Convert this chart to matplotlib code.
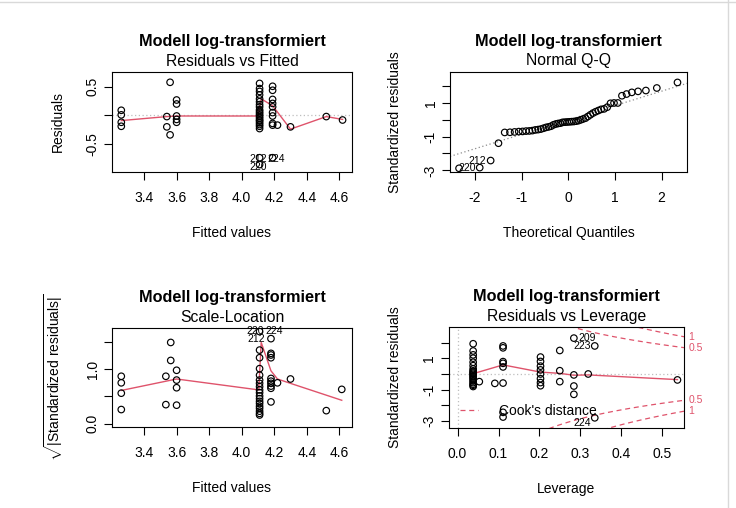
import numpy as np
import matplotlib
matplotlib.use("Agg")
import matplotlib.pyplot as plt
import matplotlib.transforms as mtransforms
from matplotlib.lines import Line2D
from statistics import NormalDist

plt.rcParams["font.family"] = ["Liberation Sans", "DejaVu Sans"]
plt.rcParams["axes.unicode_minus"] = False
plt.rcParams["mathtext.fontset"] = "custom"
plt.rcParams["mathtext.rm"] = "Liberation Sans"
plt.rcParams["mathtext.it"] = "Liberation Sans:italic"

TITLE = "Modell log-transformiert"
RED = "#DF536B"
W, H = 736, 508

# --- Residuals vs Fitted ---
rvf_groups = [3.26, 3.54, 3.56, 3.60, 4.11, 4.19, 4.22, 4.30, 4.52, 4.62]
rvf_resid = [
    [0.09, 0.01, -0.12, -0.19],
    [-0.02, -0.20],
    [0.58, -0.34],
    [0.27, 0.20, -0.01, -0.07, -0.12],
    [0.56, 0.47, 0.42, 0.36, 0.29, 0.24, 0.19, 0.15, 0.10, 0.07, 0.04, 0.01,
     -0.02, -0.05, -0.08, -0.10, -0.13, -0.16, -0.19, -0.23, -0.74, -0.86],
    [0.51, 0.44, 0.28, 0.21, 0.15, 0.05, -0.01, -0.14, -0.17, -0.74],
    [-0.17], [-0.20], [-0.02], [-0.08],
]
rvf_smooth_x = [3.26, 3.54, 3.60, 4.10, 4.12, 4.19, 4.30, 4.52, 4.62]
rvf_smooth_y = [-0.09, -0.02, -0.01, -0.01, 0.29, 0.17, -0.24, -0.02, -0.07]
rvf_ids = ["212", "220", "224"]
rvf_id_x = [4.10, 4.10, 4.21]
rvf_id_y = [-0.76, -0.90, -0.76]

# --- Normal Q-Q: sorted standardized residuals ---
qq_sample = [-2.88, -2.84, -2.42, -1.39, -0.75, -0.74, -0.72, -0.70, -0.69, -0.67,
             -0.66, -0.64, -0.60, -0.58, -0.55, -0.50, -0.45, -0.42, -0.38, -0.30,
             -0.25, -0.22, -0.20, -0.15, -0.14, -0.13, -0.12, -0.11, -0.10, -0.08,
             -0.05, 0.00, 0.05, 0.10, 0.20, 0.30, 0.40, 0.48, 0.55, 0.62,
             0.65, 0.75, 0.98, 1.00, 1.00, 1.43, 1.53, 1.63, 1.69, 1.74,
             1.89, 2.22]

# --- Scale-Location ---
sl_groups = [3.26, 3.534, 3.564, 3.60, 4.11, 4.18, 4.22, 4.30, 4.52, 4.615]
sl_vals = [
    [0.87, 0.75, 0.56, 0.26],
    [0.87, 0.35],
    [1.49, 1.16],
    [0.98, 0.80, 0.66, 0.34],
    [1.69, 1.35, 1.21, 1.01, 0.89, 0.80, 0.74, 0.68, 0.62, 0.57, 0.51, 0.46,
     0.41, 0.37, 0.32, 0.28, 0.23, 0.19, 0.16],
    [1.56, 1.29, 1.26, 1.21, 0.83, 0.78, 0.74, 0.69, 0.65, 0.40],
    [0.75], [0.82], [0.24], [0.63],
]
sl_smooth_x = [3.26, 3.60, 4.105, 4.12, 4.18, 4.22, 4.30, 4.615]
sl_smooth_y = [0.61, 0.82, 0.62, 1.49, 0.97, 0.82, 0.74, 0.43]
sl_ids = ["220", "224", "212"]
sl_id_x = [4.085, 4.2, 4.09]
sl_id_y = [1.70, 1.70, 1.55]

# --- Residuals vs Leverage ---
lev_groups = [0.038, 0.053, 0.091, 0.111, 0.2025, 0.2496, 0.284, 0.319, 0.335, 0.537]
lev_vals = [
    [1.93, 1.47, 1.22, 1.01, 0.75, 0.53, 0.32, 0.20, 0.12, 0.05, -0.02, -0.10,
     -0.18, -0.26, -0.35, -0.45, -0.55, -0.65, -0.72, -0.80],
    [-0.49],
    [-0.60],
    [1.79, 1.67, 0.79, 0.68, 0.45, -0.58, -2.45, -2.75],
    [1.08, 0.80, 0.50, 0.26, 0.00, -0.30, -0.55, -0.75],
    [1.50, 0.21, -0.49],
    [2.29, -0.06, -0.77, -1.30],
    [0.00],
    [1.79, -2.80],
    [-0.38],
]
lev_smooth_x = [0.038, 0.111, 0.2025, 0.2496, 0.284, 0.319, 0.537]
lev_smooth_y = [0.02, 0.58, 0.12, 0.04, -0.08, -0.06, -0.36]
cook_levels = [0.5, 1]
n_params = 7


def flat(groups, vals):
    x = np.concatenate([[g] * len(v) for g, v in zip(groups, vals)])
    y = np.concatenate(vals)
    return x, y


fig = plt.figure(figsize=(W / 100, H / 100), dpi=100)
fig.patch.set_facecolor("white")
# faint frame of the plot pane
fig.add_artist(Line2D([0, 1], [1 - 2 / H, 1 - 2 / H], color="#D9D9D9", lw=1))
fig.add_artist(Line2D([728 / W, 728 / W], [0, 1], color="#D9D9D9", lw=1))


def r_axes(l, t, r, b, subtitle, xlabel, ylabel, ylab_dx=54):
    ax = fig.add_axes([l / W, 1 - b / H, (r - l) / W, (b - t) / H])
    for s in ax.spines.values():
        s.set_linewidth(0.8)
    ax.tick_params(direction="out", length=5.5, width=0.8, labelsize=10)
    ax.tick_params(axis="x", pad=8.5)
    ax.tick_params(axis="y", pad=3.5)
    cx = (l + r) / 2
    fig.text(cx / W, 1 - (t - 26) / H, TITLE, ha="center", va="baseline",
             fontsize=11.7, fontweight="bold")
    fig.text(cx / W, 1 - (t - 6.5) / H, subtitle, ha="center", va="baseline",
             fontsize=11.3)
    fig.text(cx / W, 1 - (b + 65) / H, xlabel, ha="center", va="baseline", fontsize=10)
    fig.text((l - ylab_dx) / W, 1 - ((t + b) / 2) / H, ylabel, ha="center",
             va="center", rotation=90, fontsize=10)
    return ax


def y_ticks(ax, ticks, labels):
    ax.set_yticks(ticks)
    ax.set_yticklabels(labels)
    for lab in ax.get_yticklabels():
        lab.set_rotation(90)
        lab.set_va("center")


pt = dict(facecolors="none", edgecolors="black", s=22, linewidths=0.85, zorder=3)

# panel 1
ax1 = r_axes(112, 72, 352, 172, "Residuals vs Fitted", "Fitted values", "Residuals")
x, y = flat(rvf_groups, rvf_resid)
ax1.scatter(x, y, **pt)
ax1.axhline(0, color="#BEBEBE", ls=(0, (1, 2)), lw=0.9)
ax1.plot(rvf_smooth_x, rvf_smooth_y, color=RED, lw=1)
for t, tx, ty in zip(rvf_ids, rvf_id_x, rvf_id_y):
    ax1.text(tx, ty, t, fontsize=7.5, ha="center", va="center")
ax1.set_xlim(3.203, 4.678)
ax1.set_ylim(-0.99, 0.76)
ax1.set_xticks([3.4, 3.6, 3.8, 4.0, 4.2, 4.4, 4.6])
y_ticks(ax1, [-0.5, 0, 0.5], ["-0.5", "", "0.5"])

# panel 2
ax2 = r_axes(450, 72, 687, 172, "Normal Q-Q", "Theoretical Quantiles",
             "Standardized residuals", ylab_dx=55)
n = len(qq_sample)
nd = NormalDist()
theo = np.array([nd.inv_cdf((i - 0.5) / n) for i in range(1, n + 1)])
samp = np.sort(qq_sample)
ax2.scatter(theo, samp, **pt)
q25, q75 = np.quantile(samp, [0.25, 0.75])
slope = (q75 - q25) / (nd.inv_cdf(0.75) - nd.inv_cdf(0.25))
ax2.axline((nd.inv_cdf(0.25), q25), slope=slope, color="#8C8C8C",
           ls=(0, (1, 2)), lw=0.9)
ax2.annotate("220", (theo[1], samp[1]), xytext=(-3, 0), textcoords="offset points",
             fontsize=7.5, ha="right", va="center")
ax2.annotate("212", (theo[2], samp[2]), xytext=(-3, 0), textcoords="offset points",
             fontsize=7.5, ha="right", va="center")
ax2.set_xlim(-2.535, 2.545)
ax2.set_ylim(-3.1, 2.84)
ax2.set_xticks([-2, -1, 0, 1, 2])
y_ticks(ax2, [-3, -2, -1, 0, 1, 2], ["-3", "", "-1", "", "1", ""])

# panel 3
ax3 = r_axes(112, 328, 352, 427, "Scale-Location", "Fitted values",
             r"$\sqrt{|\mathrm{Standardized\ residuals}|}$", ylab_dx=58)
x, y = flat(sl_groups, sl_vals)
ax3.scatter(x, y, **pt)
ax3.plot(sl_smooth_x, sl_smooth_y, color=RED, lw=1)
for t, tx, ty in zip(sl_ids, sl_id_x, sl_id_y):
    ax3.text(tx, ty, t, fontsize=7.5, ha="center", va="center", clip_on=False)
ax3.set_xlim(3.203, 4.678)
ax3.set_ylim(-0.06, 1.755)
ax3.set_xticks([3.4, 3.6, 3.8, 4.0, 4.2, 4.4, 4.6])
y_ticks(ax3, [0, 0.5, 1.0, 1.5], ["0.0", "", "1.0", ""])

# panel 4
ax4 = r_axes(449, 327, 684, 428, "Residuals vs Leverage", "Leverage",
             "Standardized residuals", ylab_dx=54)
x, y = flat(lev_groups, lev_vals)
ax4.scatter(x, y, **pt)
ax4.axhline(0, color="#BEBEBE", ls=(0, (1, 2)), lw=0.9)
ax4.axvline(0, color="#BEBEBE", ls=(0, (1, 2)), lw=0.9)
ax4.plot(lev_smooth_x, lev_smooth_y, color=RED, lw=1)
xmax = 0.553
hh = np.linspace(0.005, xmax, 101)
trans = mtransforms.blended_transform_factory(ax4.transAxes, ax4.transData)
for c in cook_levels:
    cl = np.sqrt(c * n_params * (1 - hh) / hh)
    ax4.plot(hh, cl, color=RED, ls=(0, (4, 3)), lw=0.9)
    ax4.plot(hh, -cl, color=RED, ls=(0, (4, 3)), lw=0.9)
    yr = np.sqrt(c * n_params * (1 - xmax) / xmax)
    for s in (1, -1):
        ax4.text(1.02, s * yr, f"{c:g}", transform=trans, fontsize=7.5,
                 color=RED, ha="left", va="center", clip_on=False)
ax4.annotate("209", (0.284, 2.29), xytext=(3, 0), textcoords="offset points",
             fontsize=7.5, ha="left", va="center")
ax4.annotate("223", (0.335, 1.79), xytext=(-3, 0), textcoords="offset points",
             fontsize=7.5, ha="right", va="center")
ax4.annotate("224", (0.335, -2.80), xytext=(-3, -4), textcoords="offset points",
             fontsize=7.5, ha="right", va="center")
ax4.legend(handles=[Line2D([], [], color=RED, ls=(0, (4, 3)), lw=0.9)],
           labels=["Cook's distance"], loc="center left",
           bbox_to_anchor=(0.047, 0.168), frameon=False, fontsize=10,
           borderpad=0, borderaxespad=0, handlelength=1.3, handletextpad=1.5)
ax4.set_xlim(-0.021, xmax)
ax4.set_ylim(-3.45, 3.0)
ax4.set_xticks([0.0, 0.1, 0.2, 0.3, 0.4, 0.5])
ax4.set_xticklabels(["0.0", "0.1", "0.2", "0.3", "0.4", "0.5"])
y_ticks(ax4, [-3, -2, -1, 0, 1, 2], ["-3", "", "-1", "", "1", ""])

fig.savefig("out.png", dpi=100, facecolor="white")
